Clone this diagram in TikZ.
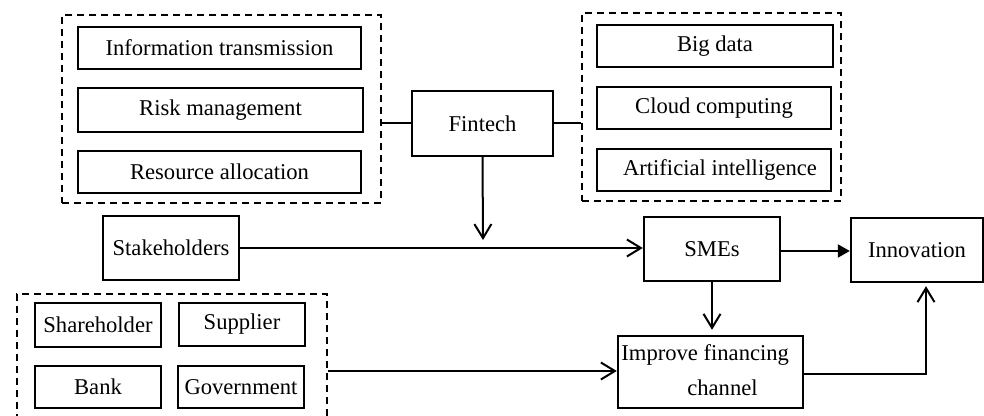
\documentclass[tikz,border=0pt]{standalone}
\usepackage{fontspec}
\setmainfont{Liberation Serif}
\usetikzlibrary{arrows.meta,calc}
\begin{document}
\begin{tikzpicture}[x=0.5pt,y=-0.5pt,
  txt/.style={font=\fontsize{11.3}{13.5}\selectfont},
  box/.style={draw, line width=1.2pt, inner sep=0pt, txt},
  grp/.style={draw, line width=1pt, dash pattern=on 3.5pt off 2.5pt, inner sep=0pt},
  link/.style={line width=1pt},
  open/.style={link, -{Straight Barb[length=7pt,width=8.5pt,line width=1pt]}},
  solid tip/.style={link, -{Triangle[length=6pt,width=6.5pt]}}]
\clip (0,0) rectangle (984,416);
\fill[white] (0,0) rectangle (984,416);

% upper left group
\node[grp, minimum width=159.5pt, minimum height=94pt] (leftgrp) at (221.5,109) {};
\node[box, minimum width=141.5pt, minimum height=21pt] (info) at (219.5,48) {Information transmission};
\node[box, minimum width=142.5pt, minimum height=22pt] (risk) at (220.5,110) {Risk management};
\node[box, minimum width=141.5pt, minimum height=21pt] (resource) at (219.5,172) {Resource allocation};

% central node
\node[box, minimum width=70.5pt, minimum height=32.5pt] (fintech) at (482.5,123.5) {Fintech};

% upper right group
\node[grp, minimum width=129.5pt, minimum height=94pt] (rightgrp) at (711.5,107) {};
\node[box, minimum width=118pt, minimum height=21pt] (bigdata) at (715,46) {Big data};
\node[box, minimum width=117pt, minimum height=21pt] (cloud) at (714,108) {Cloud computing};
\node[box, minimum width=117pt, minimum height=21pt] (ai) at (714,170) {\hspace{6pt}Artificial intelligence};

% stakeholders
\node[box, minimum width=68pt, minimum height=32pt] (stake) at (171,248) {Stakeholders};

% lower left group
\node[grp, minimum width=155pt, minimum height=68pt] (botgrp) at (172,362) {};
\node[box, minimum width=63pt, minimum height=22pt] (share) at (98,325) {Shareholder};
\node[box, minimum width=63pt, minimum height=21.5pt] (supplier) at (242,324.5) {Supplier};
\node[box, minimum width=63pt, minimum height=21pt] (bank) at (98,387) {Bank};
\node[box, minimum width=63pt, minimum height=21pt] (gov) at (241,387) {Government};

% SMEs, innovation, financing
\node[box, minimum width=68pt, minimum height=32pt] (smes) at (712,249) {SMEs};
\node[box, minimum width=66pt, minimum height=32pt] (innov) at (917,250) {Innovation};
\node[box, minimum width=92.5pt, minimum height=36pt] (improve) at (710.5,372) {};
\node[txt, anchor=west, inner sep=0pt] (improveA) at (621,355) {Improve financing};
\node[txt, inner sep=0pt] (improveB) at (722.5,388) {channel};

\coordinate (fdrop) at (483,240);

% connectors
\draw[link] (fintech.west) -- (fintech.west -| leftgrp.east);
\draw[link] (fintech.east) -- (fintech.east -| rightgrp.west);
\draw[open] (fintech.south) -- (fdrop);
\draw[open] (stake.east) -- (stake.east -| smes.west);
\draw[solid tip] ($(smes.east)+(0,2)$) -- ($(innov.west)+(0,1)$);
\draw[open, shorten >=2.5pt] (smes.south) -- (improve.north -| smes.south);
\draw[open, line width=0.7pt] ($(improve.west -| botgrp.east)+(0,-1)$) -- ($(improve.west)+(0,-1)$);
\draw[open, shorten >=1.5pt] ($(improve.east)+(0,2)$) -| ($(innov.south)+(9,0)$);
\end{tikzpicture}
\end{document}
